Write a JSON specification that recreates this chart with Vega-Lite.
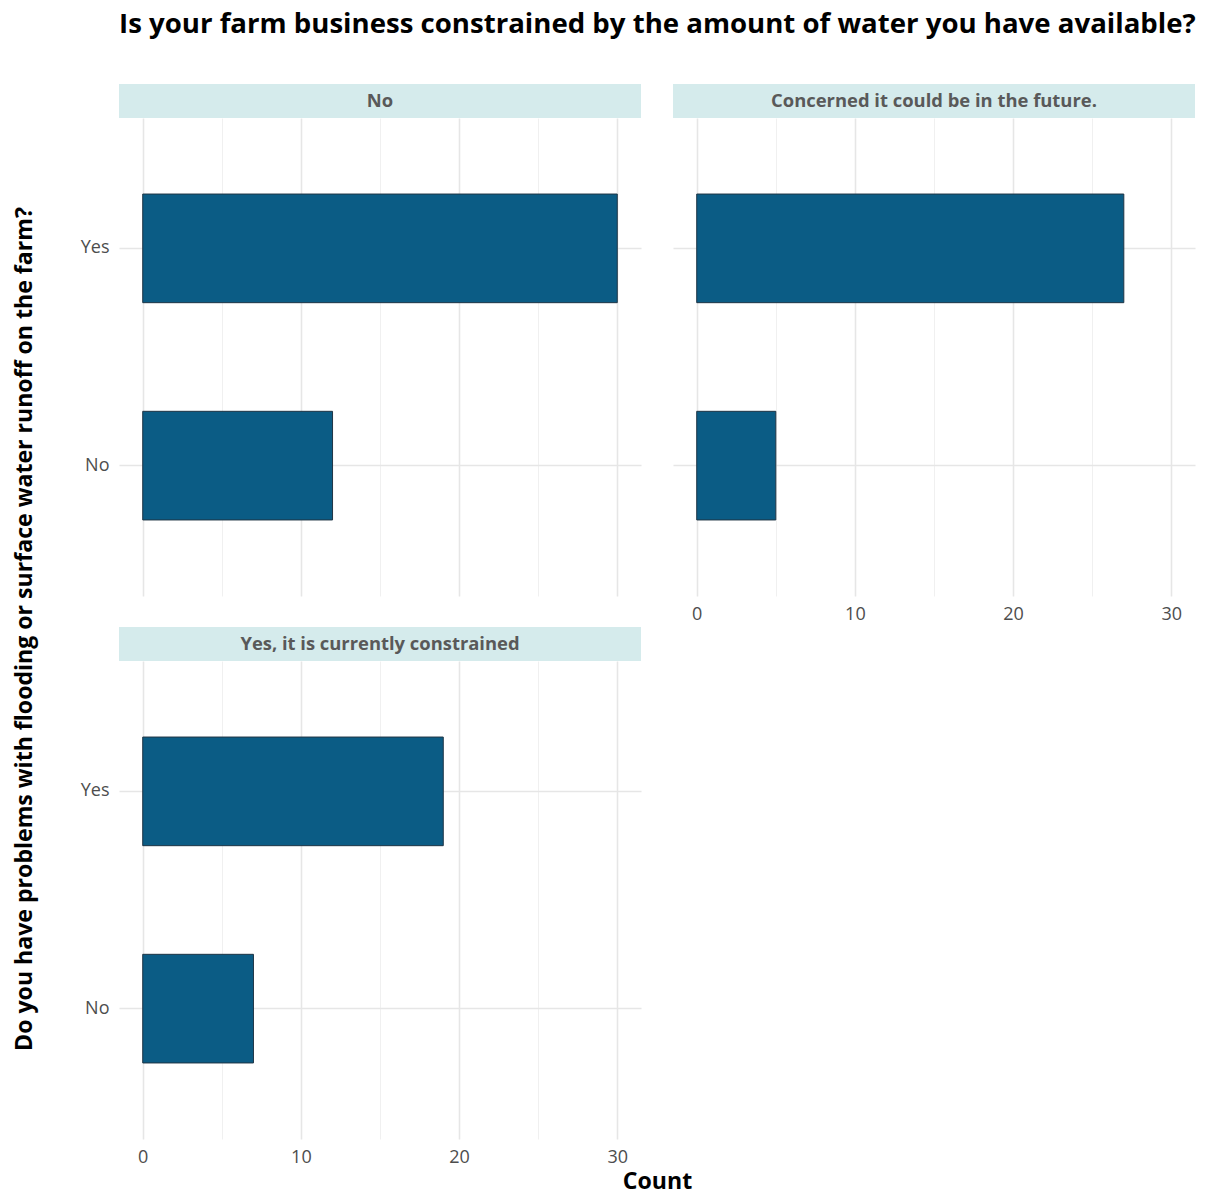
{
  "$schema": "https://vega.github.io/schema/vega-lite/v6.json",
  "padding": {"top": 11, "left": 0, "right": 0, "bottom": 0},
  "background": "white",
  "title": {"text": "Is your farm business constrained by the amount of water you have available?", "anchor": "start", "dx": 119, "font": "Open Sans", "fontSize": 27.6, "fontWeight": "bold", "color": "#000000", "offset": 45},
  "config": {
    "view": {"stroke": null},
    "font": "Open Sans",
    "axis": {"labelFont": "Open Sans", "labelFontSize": 18, "labelColor": "#4d4d4d", "ticks": false, "tickSize": 0, "domain": false, "grid": true, "gridColor": "#e9e9e9", "title": null, "labelFlush": false}
  },
  "datasets": {
    "d": [
      {"water": "No", "flood": "Yes", "count": 30},
      {"water": "No", "flood": "No", "count": 12},
      {"water": "Concerned it could be in the future.", "flood": "Yes", "count": 27},
      {"water": "Concerned it could be in the future.", "flood": "No", "count": 5},
      {"water": "Yes, it is currently constrained", "flood": "Yes", "count": 19},
      {"water": "Yes, it is currently constrained", "flood": "No", "count": 7}
    ]
  },
  "spacing": 30,
  "hconcat": [
    {
      "width": 50, "height": 1090,
      "data": {"values": [{"t": "Do you have problems with flooding or surface water runoff on the farm?"}]},
      "mark": {"type": "text", "angle": 270, "font": "Open Sans", "fontSize": 23.1, "fontWeight": "bold", "color": "#000000"},
      "encoding": {"text": {"field": "t", "type": "nominal"}}
    },
    {
      "spacing": 4,
      "vconcat": [
        {
          "spacing": 32,
          "hconcat": [
            {
              "spacing": 0,
              "vconcat": [
                {
                  "width": 522, "height": 34,
                  "view": {"fill": "#d5ebec", "stroke": null},
                  "data": {"values": [{"label": "No"}]},
                  "mark": {"type": "text", "font": "Open Sans", "fontSize": 18.4, "fontWeight": "bold", "color": "#595959"},
                  "encoding": {"text": {"field": "label", "type": "nominal"}}
                },
                {
                  "width": 522, "height": 478,
                  "data": {"name": "d"},
                  "transform": [{"filter": "datum.water === 'No'"}],
                  "mark": {"type": "bar", "color": "#0b5c85", "stroke": "#1f3545", "strokeWidth": 1},
                  "encoding": {
                    "x": {"field": "count", "type": "quantitative", "scale": {"domain": [-1.5, 31.5], "nice": false, "zero": false},
                      "axis": {"values": [0, 5, 10, 15, 20, 25, 30], "labels": false, "gridColor": {"condition": {"test": "datum.value % 10 === 0", "value": "#e6e6e6"}, "value": "#f0f0f0"}, "gridWidth": {"condition": {"test": "datum.value % 10 === 0", "value": 1.6}, "value": 1}}},
                    "x2": {"datum": 0},
                    "y": {"field": "flood", "type": "nominal", "sort": ["Yes", "No"], "scale": {"paddingInner": 0.5, "paddingOuter": 0.35},
                      "axis": {"bandPosition": 0.5, "grid": true, "gridWidth": 1.6, "gridColor": "#e6e6e6", "labelPadding": 10}}
                  }
                }
              ]
            },
            {
              "spacing": 0,
              "vconcat": [
                {
                  "width": 522, "height": 34,
                  "view": {"fill": "#d5ebec", "stroke": null},
                  "data": {"values": [{"label": "Concerned it could be in the future."}]},
                  "mark": {"type": "text", "font": "Open Sans", "fontSize": 18.4, "fontWeight": "bold", "color": "#595959"},
                  "encoding": {"text": {"field": "label", "type": "nominal"}}
                },
                {
                  "width": 522, "height": 478,
                  "data": {"name": "d"},
                  "transform": [{"filter": "datum.water === 'Concerned it could be in the future.'"}],
                  "mark": {"type": "bar", "color": "#0b5c85", "stroke": "#1f3545", "strokeWidth": 1},
                  "encoding": {
                    "x": {"field": "count", "type": "quantitative", "scale": {"domain": [-1.5, 31.5], "nice": false, "zero": false},
                      "axis": {"values": [0, 5, 10, 15, 20, 25, 30], "labelExpr": "datum.value % 10 === 0 ? datum.label : ''", "labelPadding": 9, "gridColor": {"condition": {"test": "datum.value % 10 === 0", "value": "#e6e6e6"}, "value": "#f0f0f0"}, "gridWidth": {"condition": {"test": "datum.value % 10 === 0", "value": 1.6}, "value": 1}}},
                    "x2": {"datum": 0},
                    "y": {"field": "flood", "type": "nominal", "sort": ["Yes", "No"], "scale": {"paddingInner": 0.5, "paddingOuter": 0.35},
                      "axis": {"bandPosition": 0.5, "grid": true, "gridWidth": 1.6, "gridColor": "#e6e6e6", "labels": false}}
                  }
                }
              ]
            }
          ]
        },
        {
          "hconcat": [
            {
              "spacing": 0,
              "vconcat": [
                {
                  "width": 522, "height": 34,
                  "view": {"fill": "#d5ebec", "stroke": null},
                  "data": {"values": [{"label": "Yes, it is currently constrained"}]},
                  "mark": {"type": "text", "font": "Open Sans", "fontSize": 18.4, "fontWeight": "bold", "color": "#595959"},
                  "encoding": {"text": {"field": "label", "type": "nominal"}}
                },
                {
                  "width": 522, "height": 478,
                  "data": {"name": "d"},
                  "transform": [{"filter": "datum.water === 'Yes, it is currently constrained'"}],
                  "mark": {"type": "bar", "color": "#0b5c85", "stroke": "#1f3545", "strokeWidth": 1},
                  "encoding": {
                    "x": {"field": "count", "type": "quantitative", "scale": {"domain": [-1.5, 31.5], "nice": false, "zero": false},
                      "axis": {"values": [0, 5, 10, 15, 20, 25, 30], "labelExpr": "datum.value % 10 === 0 ? datum.label : ''", "labelPadding": 9, "gridColor": {"condition": {"test": "datum.value % 10 === 0", "value": "#e6e6e6"}, "value": "#f0f0f0"}, "gridWidth": {"condition": {"test": "datum.value % 10 === 0", "value": 1.6}, "value": 1}}},
                    "x2": {"datum": 0},
                    "y": {"field": "flood", "type": "nominal", "sort": ["Yes", "No"], "scale": {"paddingInner": 0.5, "paddingOuter": 0.35},
                      "axis": {"bandPosition": 0.5, "grid": true, "gridWidth": 1.6, "gridColor": "#e6e6e6", "labelPadding": 10}}
                  }
                }
              ]
            }
          ]
        },
        {
          "width": 1077, "height": 24,
          "data": {"values": [{"t": "Count"}]},
          "mark": {"type": "text", "font": "Open Sans", "fontSize": 23.1, "fontWeight": "bold", "color": "#000000"},
          "encoding": {"text": {"field": "t", "type": "nominal"}}
        }
      ]
    }
  ]
}
